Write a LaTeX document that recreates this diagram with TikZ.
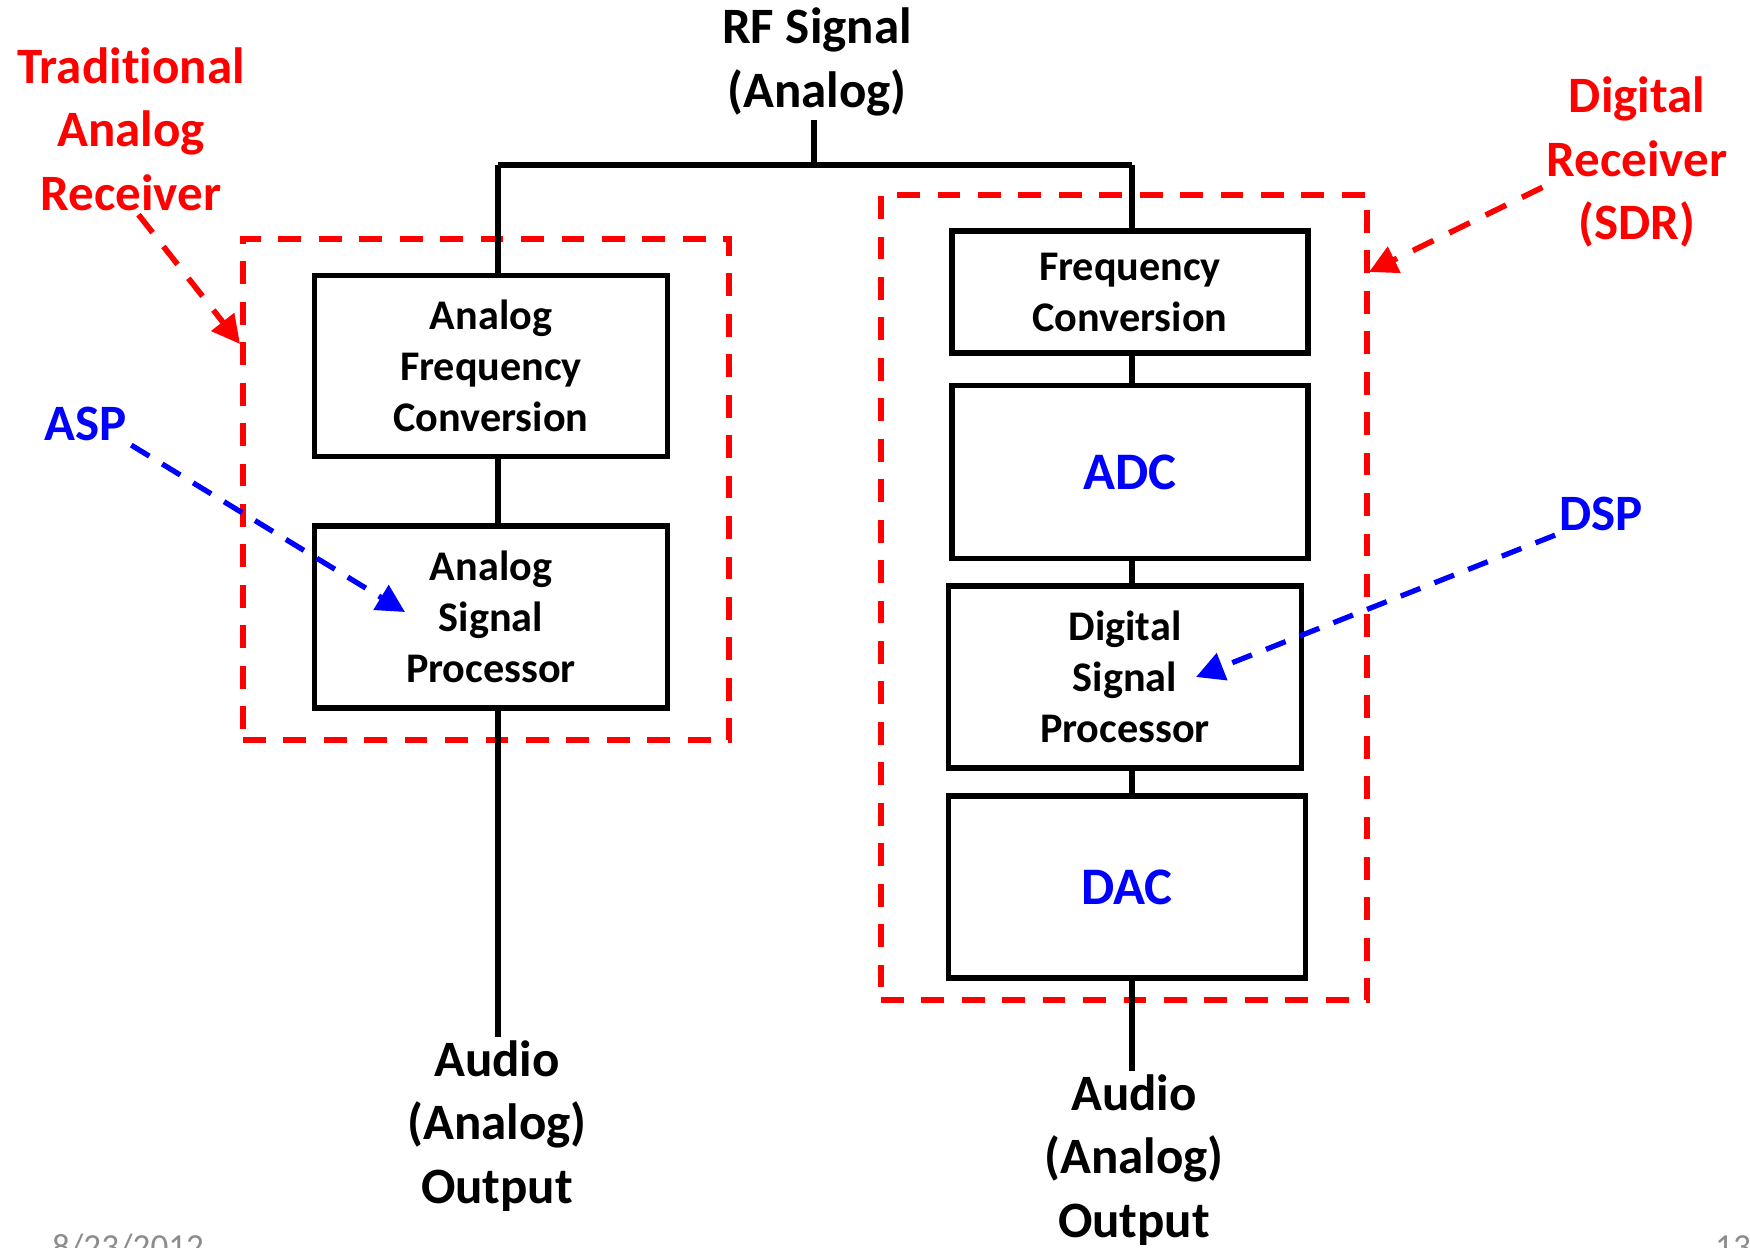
\documentclass[tikz,border=0pt]{standalone}
\usepackage{fontspec}
\setmainfont{Carlito}[Ligatures=NoCommon]
\usepackage{xcolor}
\usepackage{tikz}
\usetikzlibrary{calc,arrows.meta}
\definecolor{zonered}{HTML}{FF0000}
\definecolor{tagblue}{HTML}{0000FF}
\definecolor{footgray}{HTML}{8C8C8C}
\tikzset{
  wire/.style={draw=black, line width=1.5pt},
  block/.style={draw=black, line width=1.5pt, fill=white, align=center, inner sep=2pt,
    font=\fontsize{12}{14.5}\selectfont\bfseries},
  zone/.style={draw=zonered, line width=1.6pt, dash pattern=on 6.5pt off 5pt, inner sep=0pt},
  lab/.style={align=center, inner sep=1pt, font=\fontsize{14.5}{18}\selectfont\bfseries},
  redlab/.style={lab, text=zonered},
  bluelab/.style={lab, text=tagblue},
  redarrow/.style={draw=zonered, line width=1.6pt, dash pattern=on 6.5pt off 5pt,
    -{Triangle[length=8pt,width=8pt]}},
  bluearrow/.style={draw=tagblue, line width=1.5pt, dash pattern=on 6pt off 4.3pt,
    -{Triangle[length=8pt,width=8pt]}},
  foot/.style={text=footgray, anchor=base, font=\fontsize{10}{12}\selectfont},
}

\begin{document}
\begin{tikzpicture}[x=0.01cm, y=-0.01cm]
  \useasboundingbox (0,0) rectangle (1750,1247);

  % dashed receiver zones
  \node[zone, minimum width=4.86cm, minimum height=5.01cm] (arzone) at (486,489.5) {};
  \node[zone, minimum width=4.86cm, minimum height=8.05cm] (drzone) at (1124,597.5) {};

  % input and split
  \node[lab] (rf) at (817,62) {RF Signal\\(Analog)};
  \coordinate (split) at (814,165);
  \coordinate (ljoin) at (498,165);
  \coordinate (rjoin) at (1132,165);

  % analog chain
  \node[block, minimum width=3.53cm, minimum height=1.81cm] (afc) at (491,366)
    {Analog\\Frequency\\Conversion};
  \node[block, minimum width=3.53cm, minimum height=1.82cm] (aspbox) at (491,617)
    {Analog\\Signal\\Processor};
  \node[lab] (lout) at (497,1126) {Audio\\(Analog)\\Output};

  % digital chain
  \node[block, minimum width=3.56cm, minimum height=1.22cm] (fc) at (1130,292)
    {Frequency\\Conversion};
  \node[block, minimum width=3.53cm, minimum height=1.82cm] (dspbox) at (1125,677)
    {Digital\\Signal\\Processor};
  \node[block, minimum width=3.57cm, minimum height=1.82cm, text=tagblue,
    font=\fontsize{15}{18}\selectfont\bfseries] (dac) at (1127,887) {DAC};
  \node[lab] (rout) at (1134,1160) {Audio\\(Analog)\\Output};

  \draw[wire] (rf.south -| split) -- (split);
  \draw[wire] (ljoin) -- (rjoin);
  \draw[wire] (ljoin) -- (afc.north -| ljoin);
  \draw[wire] (afc.south -| ljoin) -- (aspbox.north -| ljoin);
  \draw[wire] (aspbox.south -| ljoin) -- (lout.north -| ljoin);
  \draw[wire] (rjoin) -- (fc.north -| rjoin);
  \draw[wire] (fc.south -| rjoin) -- (dspbox.north -| rjoin);
  \draw[wire] (dspbox.south -| rjoin) -- (dac.north -| rjoin);
  \draw[wire] (dac.south -| rjoin) -- (rout.north -| rjoin);
  \node[block, minimum width=3.56cm, minimum height=1.73cm, text=tagblue,
    font=\fontsize{15}{18}\selectfont\bfseries] (adc) at (1130,472) {ADC};

  % callouts
  \node[redlab] (trad) at (131,129) {Traditional\\Analog\\Receiver};
  \node[redlab] (sdr) at (1637,162) {Digital\\Receiver\\(SDR)};
  \node[bluelab] (asplab) at (86,424) {ASP};
  \node[bluelab] (dsplab) at (1601,514) {DSP};
  \coordinate (artip) at (240,344);
  \coordinate (drtip) at (1369,272);
  \coordinate (asptip) at (405,612);
  \coordinate (dsptip) at (1196,677);

  \draw[redarrow] (trad.-85) -- (artip);
  \draw[redarrow] (sdr.195) -- (drtip);
  \draw[bluearrow] (asplab.south east) -- (asptip);
  \draw[bluearrow] (dsplab.south west) -- (dsptip);

  % slide footer
  \node[foot] (date) at (128,1258) {8/23/2012};
  \node[foot] (page) at (1733,1258) {13};
\end{tikzpicture}
\end{document}
